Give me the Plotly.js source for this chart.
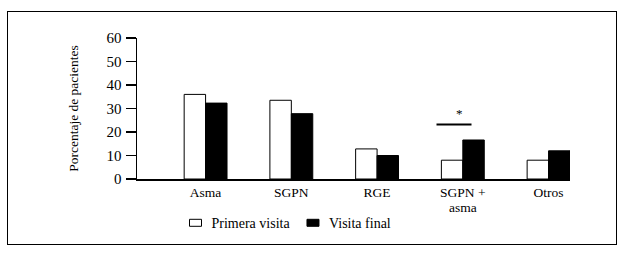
<!DOCTYPE html>
<html><head><meta charset="utf-8">
<script src="https://cdn.plot.ly/plotly-3.0.1.min.js"></script>
<style>
body{margin:0;padding:0;background:#fff;}
#wrap{position:relative;width:628px;height:259px;}
#chart{width:628px;height:259px;}
#frame{position:absolute;left:7px;top:11px;width:608px;height:232px;border:1.5px solid #000;pointer-events:none;}
</style>
</head><body>
<div id="wrap"><div id="chart"></div><div id="frame"></div></div>
<script>
var categories = ["Asma", "SGPN", "RGE", "SGPN +<br>asma", "Otros"];
var primeraVisita = [36, 33.5, 12.8, 8, 8];
var visitaFinal = [32.3, 27.8, 10, 16.6, 12];
var yTicks = [0, 10, 20, 30, 40, 50, 60];

var FAM = "Liberation Serif";
function f(size) { return {family: FAM, size: size, color: "#000000"}; }

var data = [
  {type: "bar", name: "Primera visita", x: categories, y: primeraVisita, legend: "legend",
   marker: {color: "#fff", line: {color: "#000", width: 1}}},
  {type: "bar", name: "Visita final", x: categories, y: visitaFinal, legend: "legend2",
   marker: {color: "#000", line: {color: "#000", width: 1}}}
];

var legendBase = {orientation: "h", y: -0.2, xanchor: "left", yanchor: "top",
                  font: f(14), itemwidth: 30, bgcolor: "rgba(0,0,0,0)"};

var layout = {
  width: 628, height: 259,
  margin: {l: 137, r: 58, t: 38, b: 80},
  paper_bgcolor: "#fff", plot_bgcolor: "#fff",
  font: f(14),
  barmode: "group", bargap: 0.5, bargroupgap: 0,
  showlegend: true,
  legend: Object.assign({}, legendBase, {x: 0.0797}),
  legend2: Object.assign({}, legendBase, {x: 0.351}),
  xaxis: {type: "category", range: [-0.8, 4.25], showline: true, linecolor: "#000", linewidth: 1.5,
          ticks: "", showgrid: false, zeroline: false, tickfont: f(13.5),
          fixedrange: true},
  yaxis: {range: [0, 60], tickvals: yTicks, showline: true, linecolor: "#000", linewidth: 1.5,
          ticks: "outside", ticklen: 10, tickwidth: 1.2, tickcolor: "#000", showgrid: false, zeroline: false,
          tickfont: f(15), ticklabelstandoff: 1,
          title: {text: "Porcentaje de pacientes", font: f(13.5), standoff: 25}},
  annotations: [
    {x: 3, y: 23, xref: "x", yref: "y", text: "", showarrow: false, xshift: -9,
     width: 34, height: 1, bgcolor: "#000", borderpad: 0},
    {x: 3, y: 23, xref: "x", yref: "y", text: "*", showarrow: false, xshift: -3, yshift: 11,
     font: f(13)}
  ]
};

Plotly.newPlot("chart", data, layout, {staticPlot: true, displayModeBar: false}).then(function (gd) {
  gd.querySelectorAll(".legendpoints path").forEach(function (p) {
    p.setAttribute("d", "M10,3.5H-2V-3.5H10Z");
  });
  gd.querySelectorAll(".xtick text tspan.line").forEach(function (t, i) {
    var dy = t.getAttribute("dy");
    if (dy && parseFloat(dy) > 0) t.setAttribute("dy", "1.1em");
  });
});
</script>
</body></html>
